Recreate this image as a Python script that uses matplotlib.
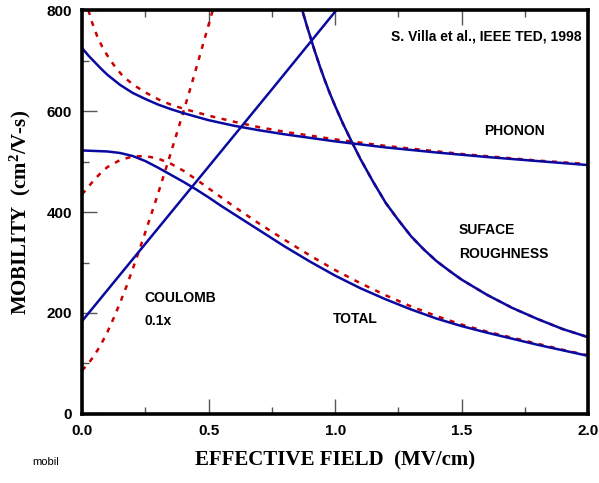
import numpy as np
import matplotlib.pyplot as plt
from matplotlib.ticker import MultipleLocator

plt.rcParams['mathtext.default'] = 'regular'

# Data (effective field in MV/cm, mobility in cm2/V-s)
ph_x = [0.0, 0.025, 0.05, 0.075, 0.1, 0.15, 0.2, 0.25, 0.3, 0.35, 0.4, 0.45, 0.5,
        0.6, 0.7, 0.8, 0.9, 1.0, 1.2, 1.4, 1.6, 1.8, 2.0]
ph_y = [725, 710, 697, 684, 672, 652, 636, 624, 613, 604, 596, 589, 582,
        571, 562, 554, 547, 540, 528, 518, 509, 501, 493]

phfit_x = [0.025, 0.04, 0.06, 0.08, 0.1, 0.13, 0.16, 0.2, 0.25, 0.31, 0.36, 0.42, 0.5,
           0.6, 0.7, 0.8, 1.0, 1.2, 1.5, 1.8, 2.0]
phfit_y = [800, 775, 748, 727, 710, 688, 670, 653, 637, 621, 611, 602, 591,
           579, 568, 559, 544, 531, 515, 502, 495]

sr_x = [0.86, 0.87, 0.88, 0.89, 0.9, 0.92, 0.94, 0.96, 0.98, 1.0, 1.03, 1.06, 1.1, 1.15,
        1.2, 1.25, 1.3, 1.35, 1.4, 1.45, 1.5, 1.6, 1.7, 1.8, 1.9, 2.0]
sr_y = [815, 800, 783, 766, 750, 718, 688, 660, 634, 610, 576, 545, 505, 460,
        418, 384, 352, 326, 303, 284, 266, 236, 210, 188, 168, 152]

cb_x = [0.0, 0.25, 0.5, 0.75, 1.0, 1.02]
cb_y = [184, 337, 490, 643, 797, 809]

cbfit_x = [0.0, 0.025, 0.05, 0.075, 0.1, 0.125, 0.15, 0.175, 0.2, 0.225, 0.25, 0.275,
           0.3, 0.325, 0.35, 0.375, 0.4, 0.425, 0.45, 0.475, 0.5, 0.525]
cbfit_y = [86, 100, 117, 138, 162, 190, 220, 252, 287, 323, 360, 398,
           436, 476, 516, 557, 598, 640, 683, 727, 771, 815]

tot_x = [0.0, 0.05, 0.1, 0.15, 0.2, 0.25, 0.3, 0.35, 0.4, 0.45, 0.5, 0.55, 0.6, 0.65,
         0.7, 0.8, 0.9, 1.0, 1.1, 1.2, 1.3, 1.4, 1.5, 1.6, 1.7, 1.8, 1.9, 2.0]
tot_y = [522, 521, 520, 517, 511, 501, 488, 474, 460, 445, 429, 412, 396, 380,
         364, 332, 302, 274, 249, 227, 207, 189, 174, 161, 149, 137, 126, 115]

totfit_x = [0.0, 0.025, 0.05, 0.075, 0.1, 0.15, 0.2, 0.25, 0.3, 0.35, 0.4, 0.45, 0.5,
            0.55, 0.6, 0.65, 0.7, 0.8, 0.9, 1.0, 1.1, 1.2, 1.3, 1.4, 1.5, 1.6, 1.7,
            1.8, 1.9, 2.0]
totfit_y = [435, 450, 465, 478, 489, 503, 510, 511, 506, 496, 482, 465, 447,
            429, 411, 394, 377, 345, 314, 285, 259, 235, 213, 194, 177, 163, 151,
            139, 127, 116]

blue = '#0a0aa0'
red = '#cc0000'

fig = plt.figure(figsize=(5.99, 4.83), dpi=100)
ax = fig.add_axes([0.137, 0.143, 0.845, 0.836])

dash = dict(color=red, lw=1.8, ls=(0, (2, 2.6)))
ax.plot(phfit_x, phfit_y, **dash)
ax.plot(sr_x, sr_y, **dash)
ax.plot(cbfit_x, cbfit_y, **dash)
ax.plot(totfit_x, totfit_y, **dash)

for xs, ys in [(ph_x, ph_y), (sr_x, sr_y), (cb_x, cb_y), (tot_x, tot_y)]:
    ax.plot(xs, ys, color=blue, lw=1.8)

ax.set_xlim(0, 2.0)
ax.set_ylim(0, 800)
ax.xaxis.set_major_locator(MultipleLocator(0.5))
ax.xaxis.set_minor_locator(MultipleLocator(0.25))
ax.yaxis.set_major_locator(MultipleLocator(200))
ax.yaxis.set_minor_locator(MultipleLocator(100))
ax.xaxis.set_major_formatter(plt.FormatStrFormatter('%.1f'))

ax.tick_params(which='both', direction='in', top=True, right=False, color='#555555', width=1)
ax.tick_params(which='major', length=11, pad=7)
ax.tick_params(which='minor', length=5)
for sp in ax.spines.values():
    sp.set_linewidth(2.6)
for lab in ax.get_xticklabels() + ax.get_yticklabels():
    lab.set_fontfamily('Liberation Sans')
    lab.set_fontweight('bold')
    lab.set_fontsize(11)

ax.set_xlabel('EFFECTIVE FIELD  (MV/cm)', family='Liberation Serif', weight='bold', fontsize=15, labelpad=9)
ax.set_ylabel('MOBILITY  (cm$^2$/V-s)', family='Liberation Serif', weight='bold', fontsize=15, labelpad=10)

txt = dict(family='Liberation Sans', weight='bold', fontsize=10, va='center')
ax.text(1.972, 748, 'S. Villa et al., IEEE TED, 1998', ha='right', **txt)
ax.text(1.59, 560, 'PHONON', ha='left', **txt)
ax.text(1.488, 364, 'SUFACE', ha='left', **txt)
ax.text(1.488, 317, 'ROUGHNESS', ha='left', **txt)
ax.text(0.248, 230, 'COULOMB', ha='left', **txt)
ax.text(0.248, 184, '0.1x', ha='left', **txt)
ax.text(0.992, 189, 'TOTAL', ha='left', **txt)

fig.text(46 / 599, 1 - 462 / 483, 'mobil', family='Liberation Sans', fontsize=8, ha='center', va='center')

fig.savefig('out.png', dpi=100)
